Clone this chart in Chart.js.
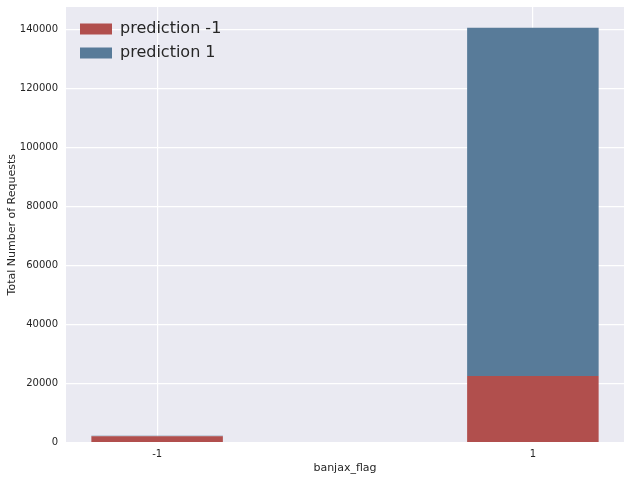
<!DOCTYPE html>
<html>
<head>
<meta charset="utf-8">
<script src="https://cdn.jsdelivr.net/npm/chart.js@4"></script>
<style>
  html, body { margin: 0; padding: 0; background: #fff; }
  #wrap { width: 631px; height: 481px; position: relative; }
</style>
</head>
<body>
<div id="wrap"><canvas id="chart"></canvas></div>
<script>
const categories = ['-1', '1'];
const seriesLabels = ['prediction -1', 'prediction 1'];
const predMinus1 = [2100, 22600];
const predPlus1 = [150, 118100];
const yTicks = [0, 20000, 40000, 60000, 80000, 100000, 120000, 140000];

const colors = ['#b14f4d', '#587b99'];
const font = 'DejaVu Sans';

// paint the grey plot background like seaborn
const plotBg = {
  id: 'plotBg',
  beforeDraw(chart) {
    const {ctx, chartArea: a} = chart;
    ctx.save();
    ctx.fillStyle = '#eaeaf2';
    ctx.fillRect(a.left, a.top, a.right - a.left, a.bottom - a.top);
    ctx.restore();
  }
};

// nudge the in-plot legend away from the corner
const legendNudge = {
  id: 'legendNudge',
  afterLayout(chart) {
    const a = chart.chartArea;
    chart.legend.left = a.left + 6;
    chart.legend.top = a.top + 6;
  }
};

const toPoints = (vals) => vals.map((v, i) => ({x: i, y: v}));

new Chart(document.getElementById('chart'), {
  type: 'bar',
  data: {
    datasets: [
      {label: seriesLabels[0], data: toPoints(predMinus1), backgroundColor: colors[0]},
      {label: seriesLabels[1], data: toPoints(predPlus1), backgroundColor: colors[1]}
    ]
  },
  options: {
    responsive: true,
    maintainAspectRatio: false,
    animation: false,
    barPercentage: 0.35,
    categoryPercentage: 1,
    layout: {padding: {top: 7, right: 7, left: 0, bottom: 0}},
    plugins: {
      tooltip: {enabled: false},
      legend: {
        position: 'chartArea',
        align: 'start',
        labels: {
          boxWidth: 32,
          boxHeight: 11,
          padding: 8,
          color: '#262626',
          font: {family: font, size: 16}
        }
      }
    },
    scales: {
      x: {
        type: 'linear',
        stacked: true,
        offset: false,
        min: -0.2425,
        max: 1.2425,
        afterBuildTicks: (s) => { s.ticks = categories.map((_, i) => ({value: i})); },
        afterFit: (s) => { s.height = 38.5; },
        grid: {color: '#ffffff', lineWidth: 1.2, drawTicks: false, offset: false},
        border: {display: false},
        ticks: {
          color: '#262626',
          padding: 6,
          font: {family: font, size: 10},
          callback: (v) => categories[v]
        },
        title: {
          display: true,
          text: 'banjax_flag',
          color: '#262626',
          font: {family: font, size: 11},
          padding: {top: 2, bottom: 6}
        }
      },
      y: {
        stacked: true,
        min: 0,
        max: 147735,
        afterBuildTicks: (s) => { s.ticks = yTicks.map((v) => ({value: v})); },
        afterFit: (s) => { s.width = 66; s.paddingTop = 0; },
        grid: {color: '#ffffff', lineWidth: 1.2, drawTicks: false},
        border: {display: false},
        ticks: {
          color: '#262626',
          padding: 8,
          font: {family: font, size: 10},
          callback: (v) => String(v)
        },
        title: {
          display: true,
          text: 'Total Number of Requests',
          color: '#262626',
          font: {family: font, size: 11},
          padding: {top: 6, bottom: 4}
        }
      }
    }
  },
  plugins: [plotBg, legendNudge]
});
</script>
</body>
</html>
